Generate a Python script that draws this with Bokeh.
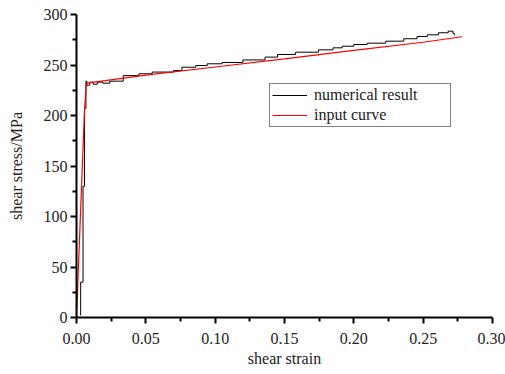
from bokeh.plotting import figure
from bokeh.models import Range1d, FixedTicker, PrintfTickFormatter, Legend, LegendItem
from bokeh.embed import file_html
from bokeh.resources import INLINE

# ---- data ----
x_ticks = [0.00, 0.05, 0.10, 0.15, 0.20, 0.25, 0.30]
x_minor = [0.025, 0.075, 0.125, 0.175, 0.225, 0.275]
y_ticks = [0, 50, 100, 150, 200, 250, 300]
y_minor = [25, 75, 125, 175, 225, 275]

# input curve (red)
input_strain = [0.0, 0.0058, 0.0072, 0.05, 0.10, 0.15, 0.20, 0.25, 0.278]
input_stress = [0.0, 207.0, 232.0, 240.0, 248.0, 256.0, 264.5, 272.5, 278.0]

# numerical result (black, stepped)
num_strain = [0.0030, 0.0030, 0.0047, 0.0047, 0.0058, 0.0058, 0.0068, 0.0068,
              0.0075, 0.0075, 0.0095, 0.0095, 0.0120, 0.0120, 0.0150, 0.0150,
              0.0190, 0.0190, 0.0240, 0.0240, 0.0337, 0.0337, 0.0450, 0.0450,
              0.0546, 0.0546, 0.0700, 0.0700, 0.0760, 0.0760, 0.0860, 0.0860,
              0.0943, 0.0943, 0.1050, 0.1050, 0.1200, 0.1200, 0.1360, 0.1360,
              0.1450, 0.1450, 0.1580, 0.1580, 0.1745, 0.1745, 0.1850, 0.1850,
              0.1916, 0.1916, 0.2000, 0.2000, 0.2096, 0.2096, 0.2230, 0.2230,
              0.2360, 0.2360, 0.2456, 0.2456, 0.2530, 0.2530, 0.2610, 0.2610,
              0.2680, 0.2680, 0.2715, 0.2715, 0.2726, 0.2726]
num_stress = [2.0, 35.0, 35.0, 130.0, 130.0, 207.0, 207.0, 234.0,
              234.0, 230.0, 230.0, 233.0, 233.0, 231.0, 231.0, 233.0,
              233.0, 232.0, 232.0, 234.0, 234.0, 239.5, 239.5, 241.3,
              241.3, 243.0, 243.0, 244.5, 244.5, 247.8, 247.8, 249.5,
              249.5, 251.2, 251.2, 252.5, 252.5, 255.0, 255.0, 257.8,
              257.8, 260.4, 260.4, 262.7, 262.7, 265.0, 265.0, 267.0,
              267.0, 268.6, 268.6, 270.3, 270.3, 271.6, 271.6, 273.6,
              273.6, 276.0, 276.0, 278.2, 278.2, 279.9, 279.9, 281.9,
              281.9, 283.5, 283.5, 281.0, 281.0, 279.5]

FONT = "Liberation Serif"

p = figure(width=505, height=374, output_backend="svg", toolbar_location=None,
           x_range=Range1d(0, 0.30), y_range=Range1d(0, 300),
           min_border_left=76, min_border_right=13, min_border_top=14, min_border_bottom=57)

p.outline_line_color = None
p.xgrid.grid_line_color = None
p.ygrid.grid_line_color = None
p.background_fill_color = "white"
p.border_fill_color = "white"

rb = p.line(num_strain, num_stress, line_color="black", line_width=1)
rr = p.line(input_strain, input_stress, line_color="#ff0000", line_width=1.2)

for ax, ticks, minor, fmt in ((p.xaxis[0], x_ticks, x_minor, "%.2f"), (p.yaxis[0], y_ticks, y_minor, "%d")):
    ax.ticker = FixedTicker(ticks=ticks, minor_ticks=minor)
    ax.formatter = PrintfTickFormatter(format=fmt)
    ax.axis_line_width = 2
    ax.axis_line_color = "black"
    ax.major_tick_line_width = 2
    ax.minor_tick_line_width = 2
    ax.major_tick_in = 0
    ax.major_tick_out = 6
    ax.minor_tick_in = 0
    ax.minor_tick_out = 4
    ax.major_label_text_font = FONT
    ax.major_label_text_font_size = "16px"
    ax.major_label_text_color = "#222222"
    ax.axis_label_text_font = FONT
    ax.axis_label_text_font_size = "16px"
    ax.axis_label_text_font_style = "normal"
    ax.axis_label_text_color = "#222222"

p.xaxis.axis_label = "shear strain"
p.yaxis.axis_label = "shear stress/MPa"
p.xaxis.major_label_standoff = 9
p.xaxis.axis_label_standoff = 3
p.yaxis.major_label_standoff = 3
p.yaxis.axis_label_standoff = 16

legend = Legend(items=[LegendItem(label="numerical result", renderers=[rb]),
                       LegendItem(label="input curve", renderers=[rr])],
                location=(193, 190))
legend.border_line_color = "black"
legend.border_line_width = 1
legend.background_fill_alpha = 1.0
legend.label_text_font = FONT
legend.label_text_font_size = "16px"
legend.label_text_color = "#222222"
legend.glyph_width = 35
legend.glyph_height = 16
legend.label_height = 16
legend.label_standoff = 7
legend.label_width = 134
legend.padding = 2
legend.spacing = 2
legend.margin = 0
p.add_layout(legend)

open("out.html", "w").write(file_html(p, INLINE))
